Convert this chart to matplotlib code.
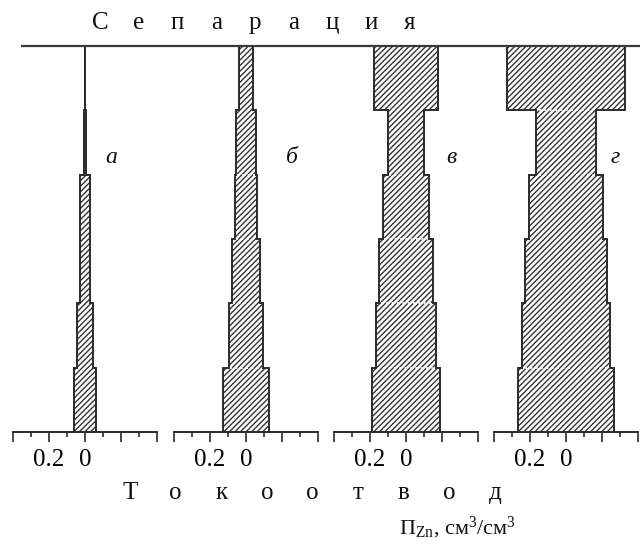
import matplotlib

matplotlib.use("Agg")
import matplotlib.pyplot as plt
import numpy as np
from matplotlib.lines import Line2D

plt.rcParams["font.family"] = ["Liberation Serif", "DejaVu Serif"]
plt.rcParams["mathtext.fontset"] = "custom"
plt.rcParams["mathtext.rm"] = "Liberation Serif"
plt.rcParams["mathtext.it"] = "Liberation Serif:italic"
plt.rcParams["hatch.linewidth"] = 1.05

# layer boundaries: 0 = current collector (bottom), 6 = separator (top)
layer_edges = [0, 1, 2, 3, 4, 5, 6]
panel_labels = ["а", "б", "в", "г"]

# half-width of the zinc porosity profile per layer, bottom to top
half_a = [0.063, 0.043, 0.028, 0.028, 0.004, 0.0]
half_b = [0.129, 0.097, 0.079, 0.062, 0.053, 0.039]
half_v = [0.190, 0.167, 0.148, 0.130, 0.102, 0.179]
half_g = [0.264, 0.244, 0.227, 0.206, 0.164, 0.329]
profiles = [half_a, half_b, half_v, half_g]

# layer boundaries where a faint light seam shows through the hatching
seams = [[], [1, 2, 3, 4], [1, 2, 3, 4], [1, 4, 5]]

tick_major = [-0.4, -0.2, 0.0, 0.2, 0.4]
tick_minor = [-0.3, -0.1, 0.1, 0.3]
tick_text = ["", "0.2", "0", "", ""]

top_word = "Сепарация"
bottom_word = "Токоотвод"
x_label = r"П$_{\mathrm{Zn}}$, см$^3$/см$^3$"

W, H = 640, 546
fig = plt.figure(figsize=(W / 100, H / 100), dpi=100)
fig.patch.set_facecolor("white")

ink = "#2b2b2b"
hatch_col = "#3c3c3c"
centers_px = [85, 246, 406, 566]
half_span_px = 72
top_px, bottom_px = 46, 432
label_offset = [0.143, 0.254, 0.254, 0.272]

for k, (cx, half, lab) in enumerate(zip(centers_px, profiles, panel_labels)):
    ax = fig.add_axes(
        [
            (cx - half_span_px) / W,
            1 - bottom_px / H,
            2 * half_span_px / W,
            (bottom_px - top_px) / H,
        ]
    )
    ax.set_xlim(-0.4, 0.4)
    ax.set_ylim(layer_edges[0], layer_edges[-1])
    ax.patch.set_alpha(0)

    ys = np.repeat(layer_edges, 2)[1:-1]
    ws = np.repeat(half, 2)
    ax.fill_betweenx(
        ys, -ws, ws, facecolor="white", edgecolor=hatch_col, hatch="//////", linewidth=0
    )
    for b in seams[k]:
        w = min(half[b - 1], half[b]) * 0.93
        ax.plot([-w, w], [b, b], color="white", linewidth=1.2, linestyle=(0, (1.2, 2.0)))
    ax.plot(-ws, ys, color=ink, linewidth=1.4, solid_joinstyle="miter")
    ax.plot(ws, ys, color=ink, linewidth=1.4, solid_joinstyle="miter")

    ax.text(
        label_offset[k],
        4.27,
        lab,
        fontsize=17,
        style="italic",
        ha="center",
        va="center",
        color="#111111",
    )

    for s in ["left", "right", "top"]:
        ax.spines[s].set_visible(False)
    ax.spines["bottom"].set_color(ink)
    ax.spines["bottom"].set_linewidth(1.4)
    ax.set_yticks([])
    ax.set_xticks(tick_major)
    ax.set_xticks(tick_minor, minor=True)
    ax.set_xticklabels(tick_text)
    ax.tick_params(
        axis="x", which="major", length=7.5, width=1.2, color=ink, pad=5, labelsize=18
    )
    ax.tick_params(axis="x", which="minor", length=3.8, width=1.2, color=ink)

# separator line at the top
fig.add_artist(
    Line2D([22 / W, 1.0], [1 - top_px / H, 1 - top_px / H], color="#3a3a3a", linewidth=1.6)
)

for ch, x in zip(top_word, np.linspace(100, 410, len(top_word))):
    fig.text(x / W, 1 - 23 / H, ch, fontsize=18, ha="center", va="center", color="#111111")

for ch, x in zip(bottom_word, np.linspace(130, 495, len(bottom_word))):
    fig.text(x / W, 1 - 493 / H, ch, fontsize=18, ha="center", va="center", color="#111111")

fig.text(458 / W, 1 - 528 / H, x_label, fontsize=16, ha="center", va="center", color="#111111")

fig.savefig("out.png", dpi=100, facecolor="white")
